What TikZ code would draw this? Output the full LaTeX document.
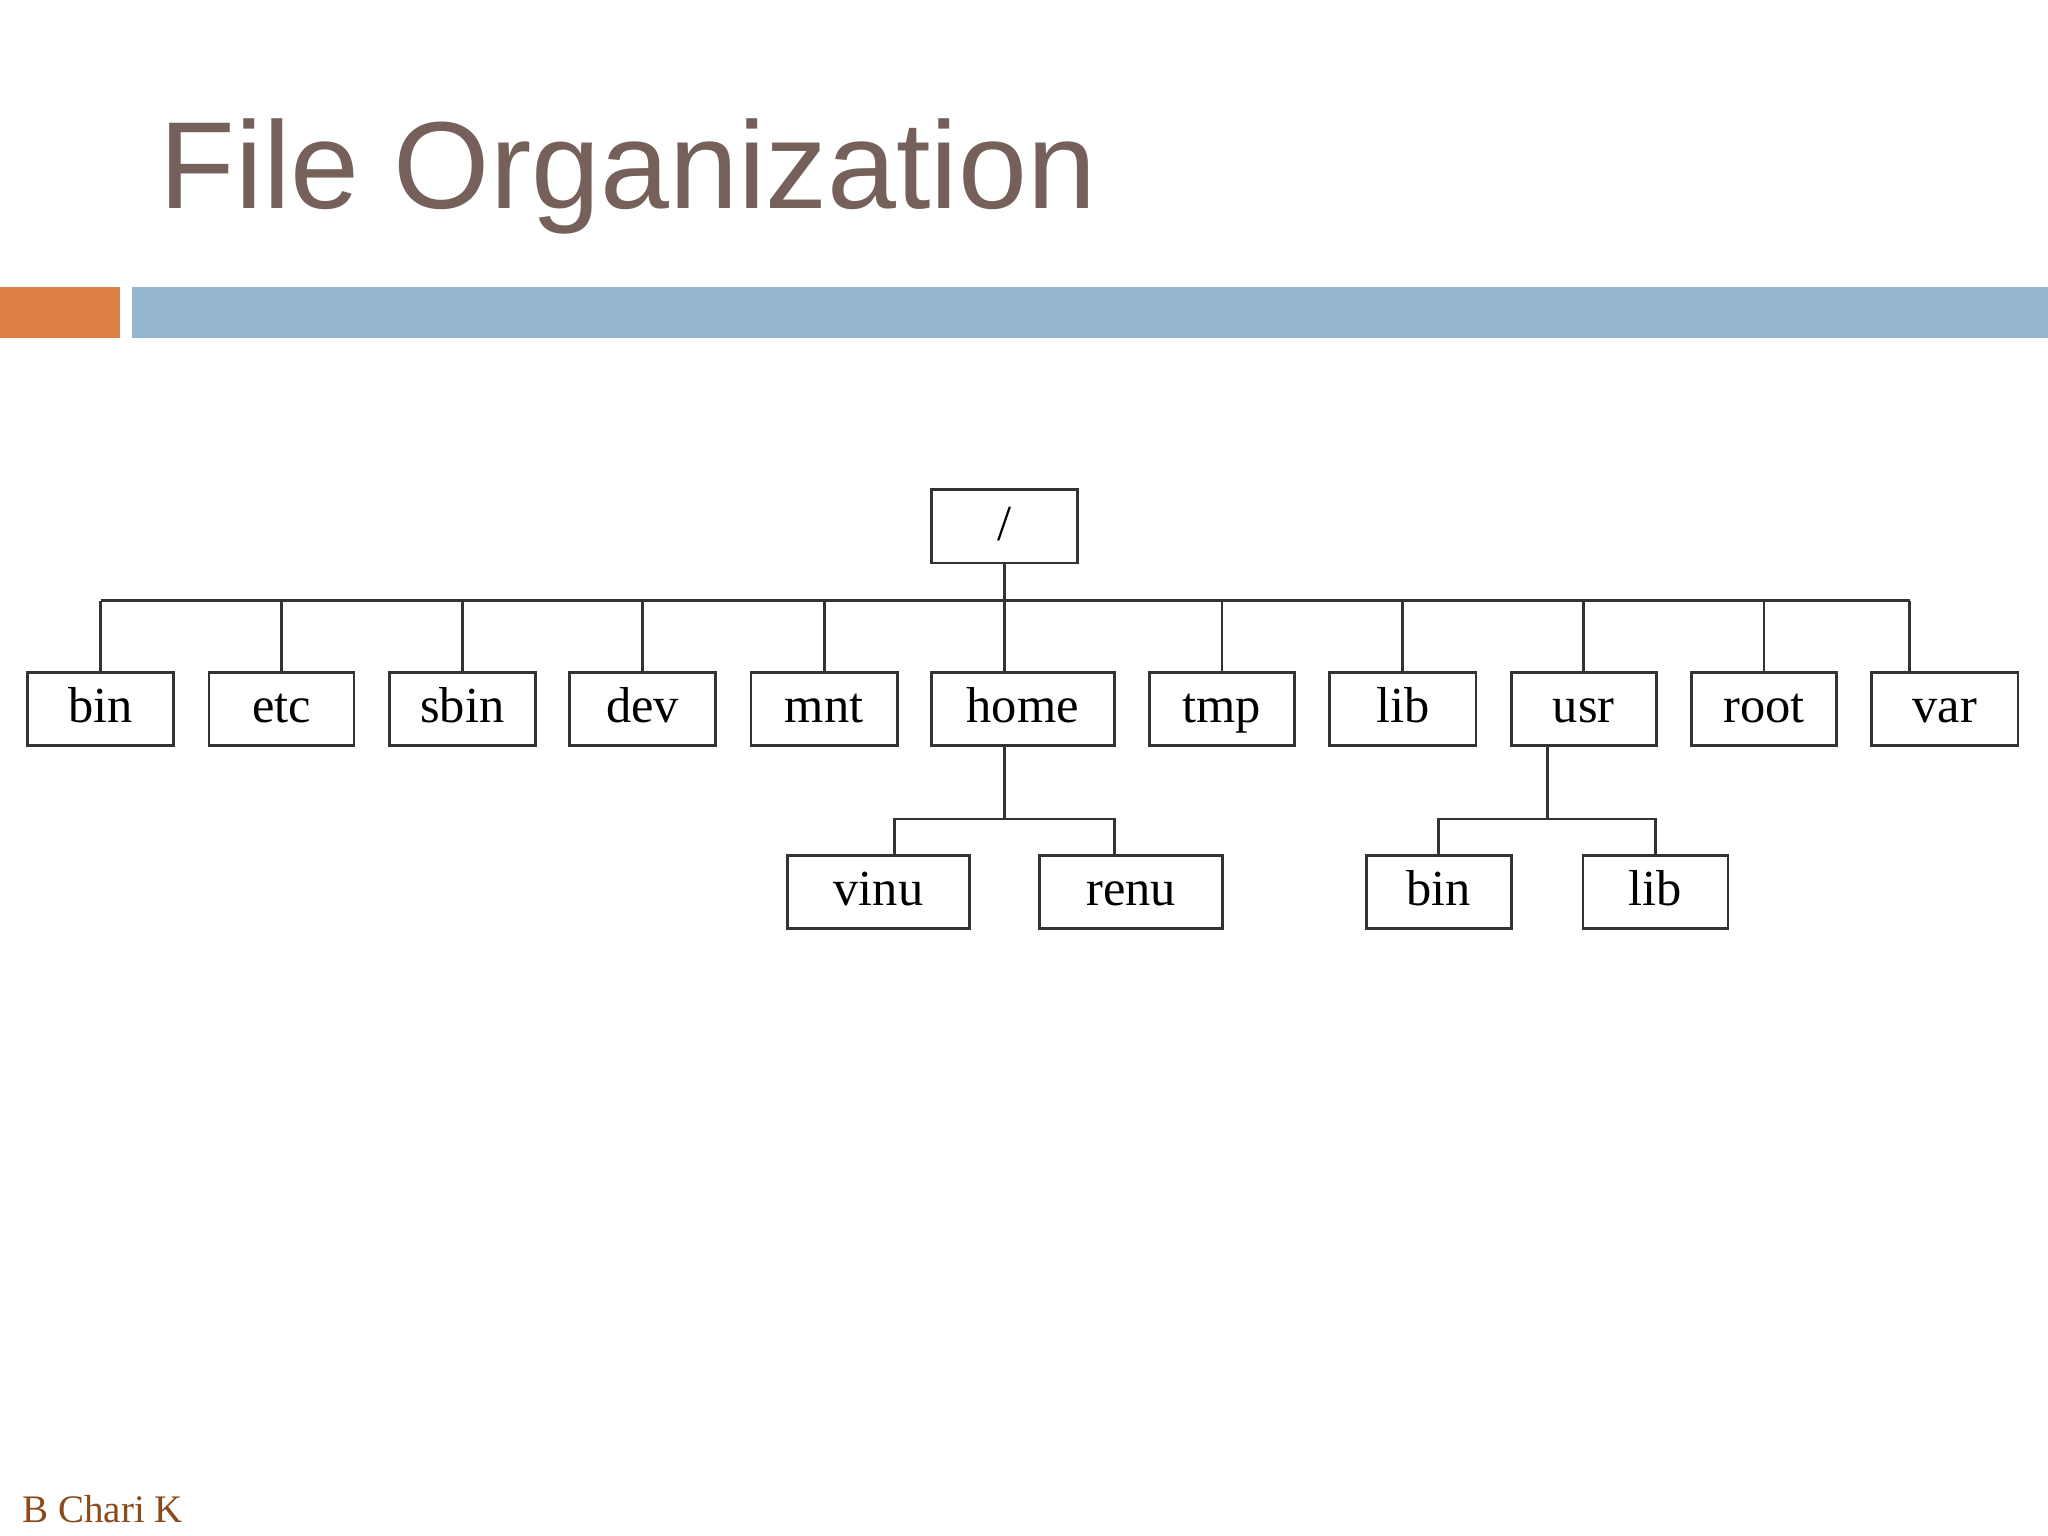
\documentclass[tikz,border=0pt]{standalone}
\usepackage{fontspec}
\setmainfont{Liberation Serif}
\newfontfamily\titlefont{Liberation Sans}
\definecolor{titlec}{HTML}{76605A}
\definecolor{orng}{HTML}{DD8046}
\definecolor{blu}{HTML}{94B5D0}
\definecolor{authc}{HTML}{8A4A1C}
\begin{document}
\begin{tikzpicture}[x=0.02cm,y=-0.02cm,
 bx/.style={draw=black!80,line width=1.2pt,minimum height=1.12cm,inner sep=0pt,text height=0.42cm,text depth=0cm,font=\fontsize{22}{22}\selectfont},
 ln/.style={draw=black!80,line width=1.2pt}]
\useasboundingbox (0,0) rectangle (1568,1176);
\fill[white] (0,0) rectangle (1568,1176);
\node[anchor=base west,inner sep=0pt,text=titlec,font=\titlefont\fontsize{54}{54}\selectfont] (title) at (122,160) {File Organization};
\fill[orng] (0,220) rectangle (92,259);
\fill[blu] (101,220) rectangle (1568,259);
\node[anchor=base west,inner sep=0pt,text=authc,font=\fontsize{17}{17}\selectfont] (auth) at (17,1166) {B Chari K};
\node[bx,minimum width=2.24cm] (r) at (769,403) {/};
\foreach \n/\t/\a/\b in {bin/bin/21/133,etc/etc/160/271,sbin/sbin/298/410,dev/dev/436/548,mnt/mnt/575/687,home/home/713/853,tmp/tmp/880/991,lib/lib/1018/1130,usr/usr/1157/1268,rt/root/1295/1406,var/var/1433/1545}
 {\pgfmathsetmacro\w{(\b-\a)*0.02}\node[bx,minimum width=\w cm] (\n) at ({(\a+\b)/2},543) {\t};}
\foreach \n/\t/\a/\b in {vinu/vinu/603/742,renu/renu/796/936,ubin/bin/1046/1157,ulib/lib/1212/1323}
 {\pgfmathsetmacro\w{(\b-\a)*0.02}\node[bx,minimum width=\w cm] (\n) at ({(\a+\b)/2},683) {\t};}
\coordinate (b0) at (77,460); \coordinate (b1) at (1462,460);
\draw[ln] (b0) -- (b1);
\draw[ln] (r.south) -- (r.south |- b0);
\foreach \n in {bin,etc,sbin,dev,mnt,tmp,lib,usr,rt}{\draw[ln] (\n.north) -- (\n.north |- b0);}
\draw[ln] (b1) -- (b1 |- var.north);
\draw[ln] (769,460) -- (769,515);
\coordinate (h) at (769,627);
\draw[ln] (769,571) -- (h);
\draw[ln] (685,655) -- (685,627) -- (853,627) -- (853,655);
\coordinate (u) at (1185,627);
\draw[ln] (1185,571) -- (u);
\draw[ln] (ubin.north) -- (ubin.north |- u) -- (ulib.north |- u) -- (ulib.north);
\end{tikzpicture}
\end{document}
